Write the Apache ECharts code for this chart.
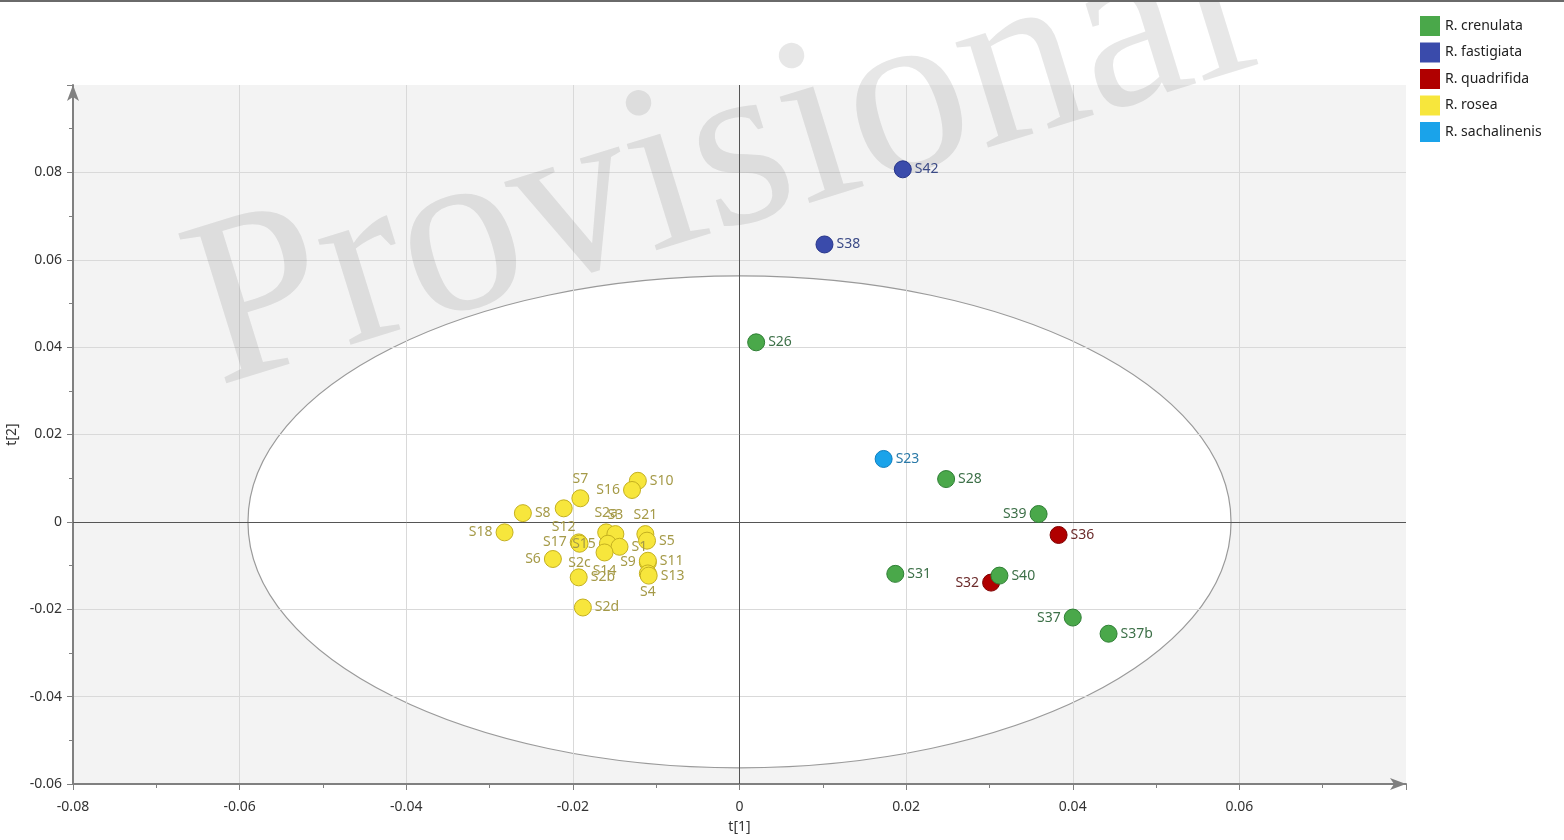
<!DOCTYPE html>
<html>
<head>
<meta charset="utf-8">
<title>PCA score plot</title>
<script src="https://cdn.jsdelivr.net/npm/echarts@6/dist/echarts.min.js"></script>
<style>
  html, body { margin: 0; padding: 0; background: #ffffff; }
  #chart { width: 1564px; height: 840px; }
</style>
</head>
<body>
<div id="chart"></div>
<script>
// Score values: [sample, t[1], t[2]]
const crenulata = [
  ['S26', 0.0020, 0.0411],
  ['S28', 0.0248, 0.0098],
  ['S39', 0.0359, 0.0018],
  ['S31', 0.0187, -0.0119],
  ['S40', 0.0312, -0.0123],
  ['S37', 0.0400, -0.0219],
  ['S37b', 0.0443, -0.0256]
];
const fastigiata = [
  ['S42', 0.0196, 0.0807],
  ['S38', 0.0102, 0.0635]
];
const quadrifida = [
  ['S36', 0.0383, -0.0030],
  ['S32', 0.0302, -0.0139]
];
const rosea = [
  ['S10', -0.0122, 0.0094],
  ['S16', -0.0129, 0.0073],
  ['S7', -0.0191, 0.0054],
  ['S12', -0.0211, 0.0031],
  ['S8', -0.0260, 0.0020],
  ['S18', -0.0282, -0.0024],
  ['S17', -0.0193, -0.0047],
  ['S2c', -0.0192, -0.0050],
  ['S2a', -0.0160, -0.0024],
  ['S3', -0.0149, -0.0028],
  ['S15', -0.0158, -0.0050],
  ['S1', -0.0144, -0.0057],
  ['S14', -0.0162, -0.0070],
  ['S21', -0.0113, -0.0028],
  ['S5', -0.0111, -0.0043],
  ['S6', -0.0224, -0.0085],
  ['S9', -0.0110, -0.0093],
  ['S11', -0.0110, -0.0089],
  ['S4', -0.0110, -0.0118],
  ['S13', -0.0109, -0.0123],
  ['S2b', -0.0193, -0.0127],
  ['S2d', -0.0188, -0.0196]
];
const sachalinenis = [
  ['S23', 0.0173, 0.0144]
];

// Hotelling's T2 ellipse (95%) semi-axes in score units
const ellipseRadii = [0.059, 0.0563];

// Tick labels
const t1Ticks = ['-0.08', '-0.06', '-0.04', '-0.02', '0', '0.02', '0.04', '0.06'];
const t2Ticks = ['-0.06', '-0.04', '-0.02', '0', '0.02', '0.04', '0.06', '0.08'];

// Where each sample label sits relative to its marker (default: right)
const labelSide = {
  S39: 'left', S32: 'left', S37: 'left', S18: 'left', S6: 'left', S16: 'left',
  S17: 'left', S15: 'left', S9: 'left',
  S7: 'top', S2a: 'top', S3: 'top', S21: 'top',
  S12: 'bottom', S2c: 'bottom', S14: 'bottom', S4: 'bottom'
};

const groups = [
  { name: 'R. crenulata', rows: crenulata, fill: '#4aa84a', edge: '#2f7f35', text: '#3d7048', z: 6 },
  { name: 'R. fastigiata', rows: fastigiata, fill: '#3a4bab', edge: '#27358a', text: '#3b4a86', z: 5 },
  { name: 'R. quadrifida', rows: quadrifida, fill: '#b00000', edge: '#7f0000', text: '#6b2a2a', z: 5 },
  { name: 'R. rosea', rows: rosea, fill: '#f7e63c', edge: '#c4b020', text: '#a59a48', z: 5 },
  { name: 'R. sachalinenis', rows: sachalinenis, fill: '#1aa3ea', edge: '#0f7fbf', text: '#2b7aa8', z: 5 }
];

const FONT = '"Noto Sans", "DejaVu Sans", sans-serif';

function tickFormatter(ticks, min, step) {
  return function (v) {
    const i = Math.round((v - min) / step);
    return ticks[i] !== undefined ? ticks[i] : '';
  };
}

const scatterSeries = groups.map(g => ({
  name: g.name,
  type: 'scatter',
  z: g.z,
  symbol: 'circle',
  symbolSize: 17,
  itemStyle: { color: g.fill, borderColor: g.edge, borderWidth: 1, opacity: 1 },
  label: {
    show: true,
    formatter: p => p.name,
    color: g.text,
    fontFamily: FONT,
    fontSize: 14,
    distance: 3
  },
  labelLayout: { hideOverlap: false },
  emphasis: { disabled: true },
  data: g.rows.map(r => ({
    name: r[0],
    value: [r[1], r[2]],
    label: { position: labelSide[r[0]] || 'right' }
  }))
}));

const axisGray = '#808080';

const option = {
  backgroundColor: '#ffffff',
  animation: false,
  grid: {
    left: 73, right: 158, top: 85, bottom: 56,
    outerBoundsMode: 'none',
    containLabel: false,
    show: true, backgroundColor: '#f3f3f3', borderWidth: 0
  },
  legend: {
    data: groups.map(g => g.name),
    orient: 'vertical',
    left: 1420, top: 16, padding: 0,
    icon: 'rect',
    itemWidth: 20, itemHeight: 20, itemGap: 6.5,
    itemStyle: { borderWidth: 0 },
    textStyle: { fontFamily: FONT, fontSize: 14, color: '#222' },
    selectedMode: false
  },
  xAxis: {
    type: 'value', min: -0.08, max: 0.08, interval: 0.02, z: 3,
    name: 't[1]', nameLocation: 'middle', nameGap: 36,
    nameTextStyle: { fontFamily: FONT, fontSize: 14, color: '#333' },
    axisLine: { onZero: false, lineStyle: { color: axisGray, width: 2 }, symbol: ['none', 'arrow'], symbolSize: [9, 16], symbolOffset: [0, 0] },
    axisTick: { show: true, length: 6, lineStyle: { color: axisGray } },
    minorTick: { show: true, splitNumber: 2, length: 4, lineStyle: { color: axisGray } },
    axisLabel: { fontFamily: FONT, fontSize: 14, color: '#333', margin: 16, formatter: tickFormatter(t1Ticks, -0.08, 0.02) },
    splitLine: { show: true, showMinLine: false, showMaxLine: false, lineStyle: { color: '#d9d9d9', width: 1 } }
  },
  yAxis: {
    type: 'value', min: -0.06, max: 0.1, interval: 0.02, z: 3,
    name: 't[2]', nameLocation: 'middle', nameGap: 44,
    nameTextStyle: { fontFamily: FONT, fontSize: 14, color: '#333' },
    axisLine: { onZero: false, lineStyle: { color: axisGray, width: 2 }, symbol: ['none', 'arrow'], symbolSize: [9, 16], symbolOffset: [0, 0] },
    axisTick: { show: true, length: 6, lineStyle: { color: axisGray } },
    minorTick: { show: true, splitNumber: 2, length: 4, lineStyle: { color: axisGray } },
    axisLabel: { fontFamily: FONT, fontSize: 14, color: '#333', margin: 11, formatter: tickFormatter(t2Ticks, -0.06, 0.02) },
    splitLine: { show: true, showMinLine: false, showMaxLine: false, lineStyle: { color: '#d9d9d9', width: 1 } }
  },
  graphic: [
    { type: 'rect', left: 0, top: 0, z: 50, shape: { width: 1564, height: 2 }, style: { fill: '#6a6a6a' } },
    {
      type: 'text', z: 4,
      x: 722, y: 164, rotation: 0.3,
      style: {
        text: 'Provisional',
        font: '240px "Liberation Serif", "DejaVu Serif", serif',
        fill: 'rgba(110,110,110,0.17)',
        align: 'center', verticalAlign: 'middle'
      }
    }
  ],
  series: [
    {
      name: 'T2 ellipse',
      type: 'custom',
      z: 1,
      silent: true,
      data: [[0, 0]],
      renderItem: function (params, api) {
        const c = api.coord([api.value(0), api.value(1)]);
        const s = api.size([ellipseRadii[0], ellipseRadii[1]]);
        return {
          type: 'ellipse',
          shape: { cx: c[0], cy: c[1], rx: s[0], ry: s[1] },
          style: { fill: '#ffffff', stroke: '#9a9a9a', lineWidth: 1.2 }
        };
      }
    },
    {
      name: 'origin',
      type: 'line',
      z: 4,
      data: [],
      markLine: {
        silent: true,
        symbol: ['none', 'none'],
        label: { show: false },
        lineStyle: { color: '#555555', type: 'solid', width: 1 },
        data: [{ xAxis: 0 }, { yAxis: 0 }]
      }
    },
    ...scatterSeries
  ]
};

const chart = echarts.init(document.getElementById('chart'), null, { renderer: 'canvas' });
chart.setOption(option);
</script>
</body>
</html>
